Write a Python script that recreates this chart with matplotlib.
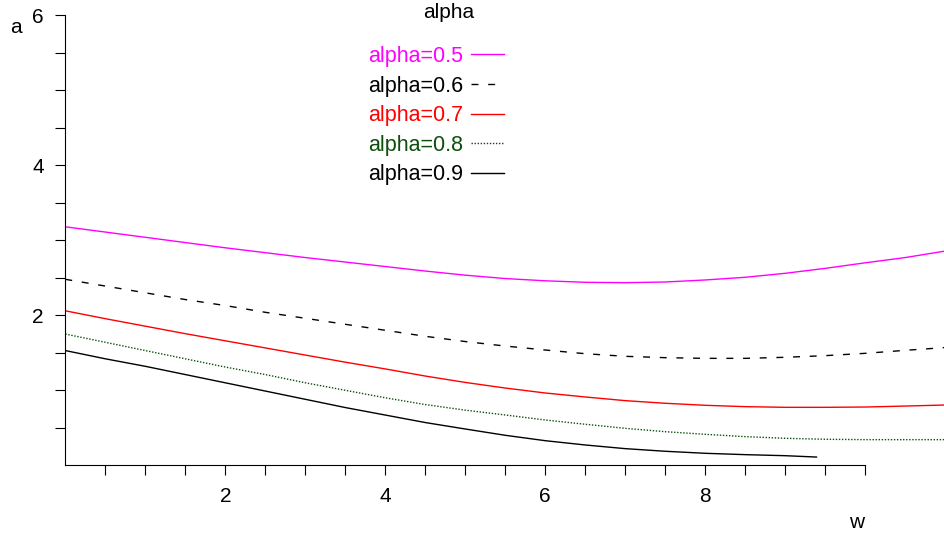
import numpy as np
import matplotlib
matplotlib.use('Agg')
import matplotlib.pyplot as plt

plt.rcParams['font.family'] = ['Liberation Sans', 'DejaVu Sans']

# values (w on x, a on y), half steps in w
w = [0, 0.5, 1, 1.5, 2, 2.5, 3, 3.5, 4, 4.5, 5, 5.5,
     6, 6.5, 7, 7.5, 8, 8.5, 9, 9.5, 10, 10.5, 11]
a_05 = [3.18, 3.11, 3.04, 2.97, 2.90, 2.835, 2.77, 2.71, 2.65, 2.59, 2.535, 2.49,
        2.46, 2.44, 2.435, 2.444, 2.471, 2.507, 2.56, 2.626, 2.70, 2.77, 2.857]
a_06 = [2.48, 2.39, 2.30, 2.21, 2.13, 2.04, 1.96, 1.88, 1.80, 1.72, 1.65, 1.59,
        1.537, 1.488, 1.453, 1.435, 1.426, 1.426, 1.44, 1.462, 1.493, 1.533, 1.57]
a_07 = [2.06, 1.955, 1.855, 1.755, 1.66, 1.565, 1.47, 1.375, 1.285, 1.19, 1.105, 1.03,
        0.964, 0.911, 0.862, 0.827, 0.80, 0.782, 0.773, 0.773, 0.777, 0.79, 0.804]
a_08 = [1.75, 1.64, 1.53, 1.42, 1.31, 1.21, 1.10, 1.00, 0.90, 0.81, 0.735, 0.671,
        0.604, 0.547, 0.493, 0.448, 0.413, 0.382, 0.36, 0.347, 0.342, 0.342, 0.342]
w_09 = [0, 0.5, 1, 1.5, 2, 2.5, 3, 3.5, 4, 4.5, 5, 5.5,
        6, 6.5, 7, 7.5, 8, 8.5, 9, 9.39]
a_09 = [1.53, 1.42, 1.32, 1.21, 1.10, 0.99, 0.88, 0.77, 0.67, 0.57, 0.484, 0.40,
        0.328, 0.271, 0.222, 0.187, 0.16, 0.142, 0.128, 0.11]

labels = ['alpha=0.5', 'alpha=0.6', 'alpha=0.7', 'alpha=0.8', 'alpha=0.9']

fig = plt.figure(figsize=(9.45, 5.37), dpi=100)
ax = fig.add_axes([65.3 / 945, (537 - 465.3) / 537, 880 / 945, 450 / 537])

lw = 1.0
ax.plot(w, a_05, color='#ff00ff', lw=lw, label=labels[0])
ax.plot(w, a_06, color='black', lw=lw, dashes=(5, 7), label=labels[1])
ax.plot(w, a_07, color='#ff0000', lw=lw, label=labels[2])
ax.plot(w, a_08, color='#0b4f0b', lw=lw, dashes=(1, 1.2), label=labels[3])
ax.plot(w_09, a_09, color='black', lw=lw, label=labels[4])

ax.set_xlim(0, 11)
ax.set_ylim(0, 6)

# Maple style axes: only left and bottom, bottom stops at 10
for s in ['top', 'right']:
    ax.spines[s].set_visible(False)
ax.spines['bottom'].set_bounds(0, 10)
ax.spines['left'].set_bounds(0, 6)

xt = np.arange(0.5, 10.01, 0.5)
yt = np.arange(0.5, 6.01, 0.5)
ax.set_xticks(xt)
ax.set_xticklabels([f'{v:g}' if v in (2, 4, 6, 8) else '' for v in xt])
ax.set_yticks(yt)
ax.set_yticklabels([f'{v:g}' if v in (2, 4, 6) else '' for v in yt])
ax.tick_params(direction='out', length=7.5, width=0.8, pad=8, labelsize=15)

fig.text(16 / 945, 1 - 28 / 537, 'a', fontsize=15, ha='center', va='center')
fig.text(857 / 945, 1 - 523 / 537, 'w', fontsize=15, ha='center', va='center')
fig.text(449 / 945, 1 - 12 / 537, 'alpha', fontsize=15, ha='center', va='center')

ax.legend(loc='upper left', bbox_to_anchor=(368 / 945, 1 - 46 / 537),
          bbox_transform=fig.transFigure, frameon=False, markerfirst=False,
          labelcolor='linecolor', fontsize=15.5, handlelength=1.53,
          handletextpad=0.37, labelspacing=0.40, borderpad=0, borderaxespad=0)

fig.savefig('out.png', dpi=100, facecolor='white')
